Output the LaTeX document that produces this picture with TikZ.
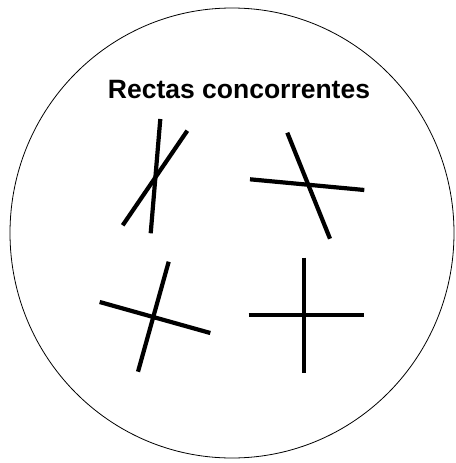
\documentclass[tikz,border=0pt]{standalone}
\usepackage{fontspec}
\setmainfont{Liberation Sans}
\usepackage{tikz}
\usetikzlibrary{positioning,calc}

\begin{document}
\begin{tikzpicture}[
    x=1pt, y=-1pt,
    every node/.style={align=center},
    title/.style={font=\bfseries\fontsize{26.5}{30}\selectfont, text=black, inner sep=0pt},
    border/.style={draw=black, line width=0.8pt},
    recta/.style={draw=black, line width=4.2pt, line cap=butt}
]
\useasboundingbox (0,0) rectangle (455,463);

% Outer circle
\draw[border] (232,233) ellipse [x radius=222, y radius=225];

% Title
\node[title] (titulo) at (239,90) {Rectas concorrentes};

% End points of the lines
\coordinate (a1) at (160.3,119);   \coordinate (a2) at (150.7,233.3);
\coordinate (b1) at (187.3,130.7); \coordinate (b2) at (122.7,225.3);
\coordinate (c1) at (287.3,132.7); \coordinate (c2) at (330,238.7);
\coordinate (d1) at (250,179.3);   \coordinate (d2) at (364.3,190);
\coordinate (e1) at (168.7,261.7); \coordinate (e2) at (138,371.7);
\coordinate (f1) at (99.7,302);    \coordinate (f2) at (210.3,333);
\coordinate (g1) at (304.3,257.7); \coordinate (g2) at (304.3,372.7);
\coordinate (h1) at (248.7,315.3); \coordinate (h2) at (363.7,315.3);

% Pairs of concurrent lines
\draw[recta] (a1) -- (a2);
\draw[recta] (b1) -- (b2);
\draw[recta] (c1) -- (c2);
\draw[recta] (d1) -- (d2);
\draw[recta] (e1) -- (e2);
\draw[recta] (f1) -- (f2);
\draw[recta] (g1) -- (g2);
\draw[recta] (h1) -- (h2);

\end{tikzpicture}
\end{document}
